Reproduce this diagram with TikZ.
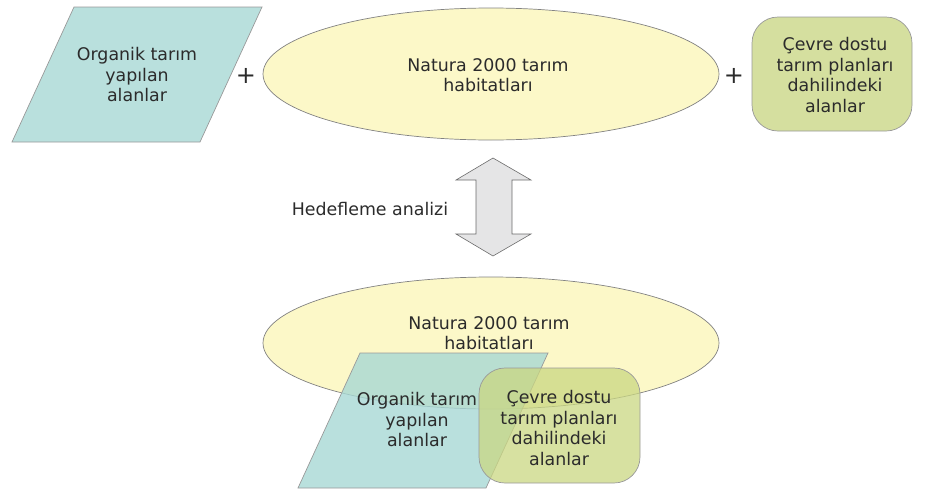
\documentclass[tikz,border=0pt]{standalone}
\usepackage{fontspec}
\setmainfont{DejaVu Sans}
\usetikzlibrary{shapes.geometric}
\definecolor{teal1}{HTML}{B9E0DD}
\definecolor{teal2}{RGB}{167,216,212}
\definecolor{yel1}{HTML}{FCF8C8}
\definecolor{grn1}{HTML}{D5DF9F}
\definecolor{grn2}{RGB}{202,215,130}
\definecolor{txt}{HTML}{2B2B2B}
\definecolor{edge}{HTML}{999999}
\definecolor{arrowfill}{HTML}{E5E5E6}
\tikzset{
  lbl/.style={text=txt, align=center, font=\fontsize{17.4}{20.5}\selectfont, inner sep=0pt},
  para/.style={fill=teal1, draw=edge, line width=0.7pt},
  ell/.style={ellipse, fill=yel1, draw=edge!85!black, line width=0.7pt, minimum width=456, minimum height=132, inner sep=0pt},
  rbox/.style={fill=grn1, draw=edge, line width=0.7pt, rounded corners=26pt},
  plus/.style={text=txt, font=\fontsize{24}{24}\selectfont, inner sep=0pt},
}
\begin{document}
\begin{tikzpicture}[x=1pt,y=-1pt]
\useasboundingbox (0,0) rectangle (930,488);
% top row
\path[para] (74,7) -- (262,7) -- (200,142) -- (12,142) -- cycle;
\node[lbl] (org1) at (137,75) {Organik tarım\\yapılan\\alanlar};
\node[ell] (nat1) at (491,74) {};
\node[lbl] (natt1) at (488,75) {Natura 2000 tarım\\habitatları};
\path[rbox] (752,17) rectangle (912,131);
\node[lbl] (cev1) at (835,75) {Çevre dostu\\tarım planları\\dahilindeki\\alanlar};
\node[plus] (p1) at (246,76) {+};
\node[plus] (p2) at (734,76) {+};
% double arrow
\path[fill=arrowfill, draw=edge!70!black, line width=0.6pt]
  (493,158) -- (531,180) -- (512,180) -- (512,234) -- (531,234) -- (493,256)
  -- (456,234) -- (476,234) -- (476,180) -- (456,180) -- cycle;
\node[lbl] (hed) at (370,209) {Hedefleme analizi};
% bottom
\node[ell] (nat2) at (491,343) {};
\node[lbl] (natt2) at (489,333) {Natura 2000 tarım\\habitatları};
\path[para, fill=teal2, fill opacity=0.8] (360,353) -- (548,353) -- (486,488) -- (298,488) -- cycle;
\node[lbl] (org2) at (417,420) {Organik tarım\\yapılan\\alanlar};
\path[rbox, fill=grn2, fill opacity=0.75] (479,368) rectangle (640,483);
\node[lbl] (cev2) at (559,428) {Çevre dostu\\tarım planları\\dahilindeki\\alanlar};
\end{tikzpicture}
\end{document}
